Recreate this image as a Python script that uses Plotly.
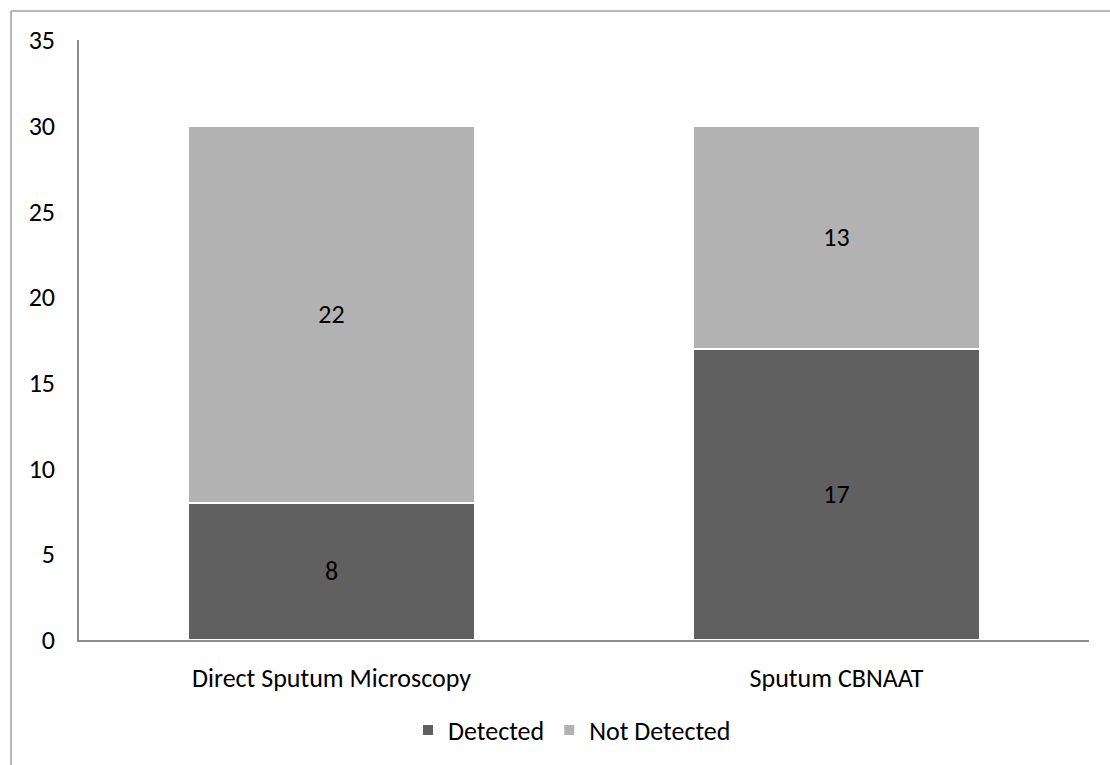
import plotly.graph_objects as go

categories = ["Direct Sputum Microscopy", "Sputum CBNAAT"]
detected = [8, 17]
not_detected = [22, 13]
y_ticks = [0, 5, 10, 15, 20, 25, 30, 35]

FONT = "Carlito, Calibri, Lato, sans-serif"
FS = 26
W, H = 1110, 765
L, R, T, B = 79, 21, 40, 125
pw, ph = W - L - R, H - T - B

def px(x):
    return (x - L) / pw

def py(y):
    return (H - B - y) / ph

fig = go.Figure()
fig.add_trace(go.Bar(
    name="Detected", x=categories, y=detected,
    marker=dict(color="#606060", line=dict(color="white", width=2)),
    text=detected, textposition="inside", insidetextanchor="middle",
    textfont=dict(color="black", size=FS, family=FONT),
))
fig.add_trace(go.Bar(
    name="Not Detected", x=categories, y=not_detected,
    marker=dict(color="#b2b2b2", line=dict(color="white", width=2)),
    text=not_detected, textposition="inside", insidetextanchor="middle",
    textfont=dict(color="black", size=FS, family=FONT),
))

fig.update_layout(
    barmode="stack",
    bargap=0.433,
    width=W, height=H,
    margin=dict(l=L, r=R, t=T, b=B),
    paper_bgcolor="white", plot_bgcolor="white",
    font=dict(family=FONT, size=FS, color="black"),
    showlegend=True,
    legend=dict(orientation="h", x=px(572), y=py(730), xanchor="center", yanchor="middle",
                font=dict(size=FS, family=FONT), itemsizing="constant", traceorder="normal"),
    uniformtext=dict(mode=False),
)
fig.update_yaxes(range=[0, 35], tickvals=y_ticks, showgrid=False, zeroline=False,
                 showline=True, linecolor="#8c8c8c", linewidth=1.5, ticks="",
                 ticklabelstandoff=17, tickfont=dict(size=FS, family=FONT))
fig.update_xaxes(showgrid=False, showline=True, linecolor="#8c8c8c", linewidth=2,
                 ticks="", ticklabelstandoff=14, tickfont=dict(size=FS, family=FONT))

# outer frame (partial border of the original image)
fig.add_shape(type="line", xref="paper", yref="paper",
              x0=px(11), y0=py(770), x1=px(11), y1=py(11),
              line=dict(color="#a0a0a0", width=1.5))
fig.add_shape(type="line", xref="paper", yref="paper",
              x0=px(11), y0=py(11), x1=px(1115), y1=py(11),
              line=dict(color="#a0a0a0", width=1.5))

fig.write_html("out.html", config={"displayModeBar": False},
               post_script="document.body.style.margin='0';document.body.style.overflow='hidden';")
